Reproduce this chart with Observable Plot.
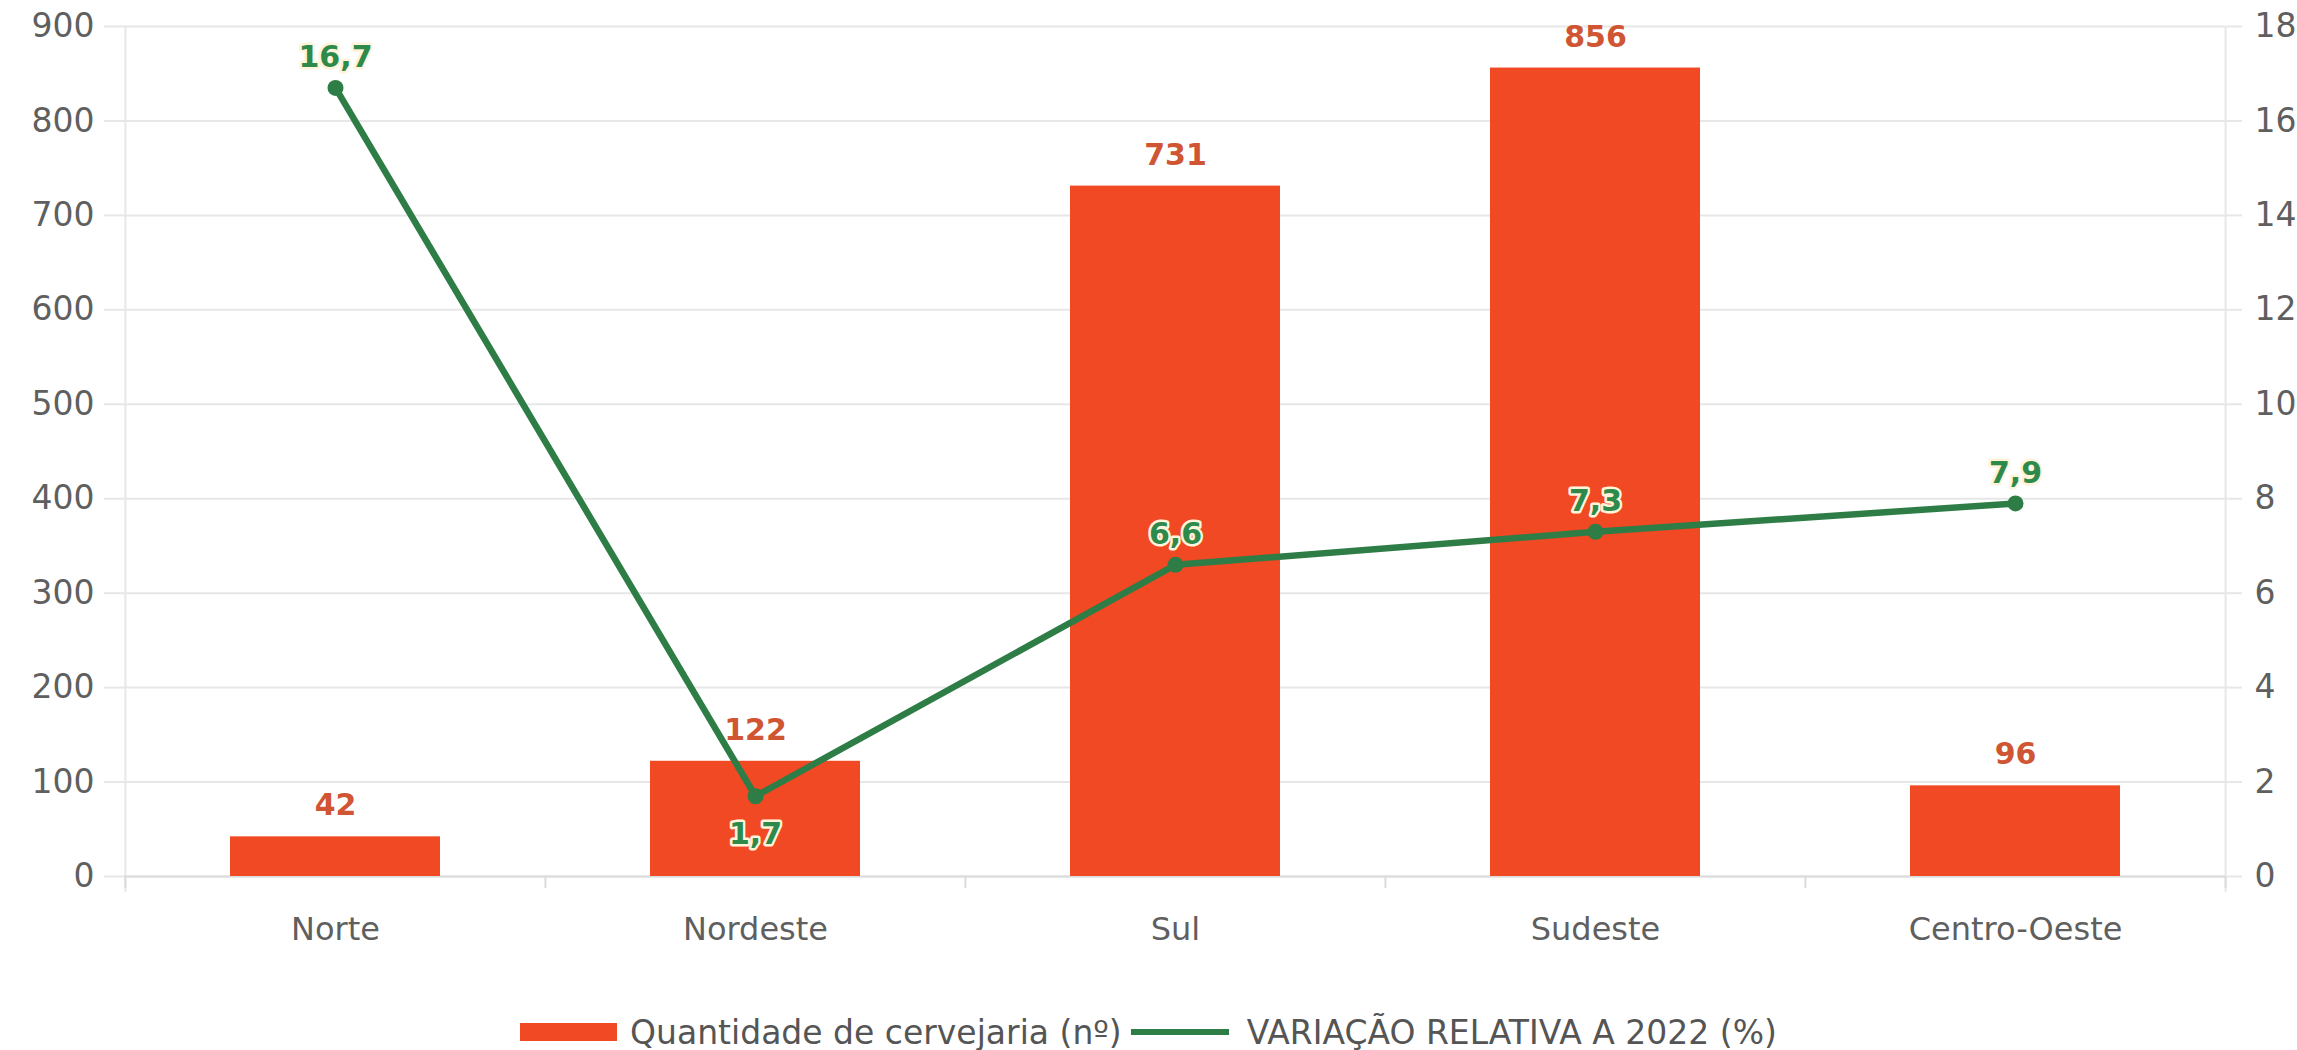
<!DOCTYPE html>
<html>
<head>
<meta charset="utf-8">
<script src="https://cdn.jsdelivr.net/npm/d3@7"></script>
<script src="https://cdn.jsdelivr.net/npm/@observablehq/plot@0.6"></script>
<style>
  html, body { margin: 0; padding: 0; background: #ffffff; }
  body { width: 2297px; height: 1050px; overflow: hidden; font-family: "DejaVu Sans", sans-serif; }
  #legend { height: 70px; display: flex; justify-content: center; align-items: center; padding-top: 34px; box-sizing: border-box; color: #555; font-size: 33px; }
  .item { display: flex; align-items: center; }
  .item + .item { margin-left: 9px; }
  .sw-bar { width: 97px; height: 18px; background: #f04923; margin-right: 13px; }
  .sw-line { width: 98px; height: 6px; background: #2e7d46; margin-right: 18px; }
</style>
</head>
<body>
<div id="chart"></div>
<div id="legend"></div>
<script>
// ---- data ----
const regions = ["Norte", "Nordeste", "Sul", "Sudeste", "Centro-Oeste"];
const breweries = [42, 122, 731, 856, 96];
const variation = [16.7, 1.7, 6.6, 7.3, 7.9];
const leftTicks = [0, 100, 200, 300, 400, 500, 600, 700, 800, 900];
const rightTicks = [0, 2, 4, 6, 8, 10, 12, 14, 16, 18];
const seriesNames = ["Quantidade de cervejaria (nº)", "VARIAÇÃO RELATIVA A 2022 (%)"];

// ---- layout ----
const W = 2297, H = 980;
const ML = 124, MR = 72, MT = 26, MB = 104;
const BAR = "#f04923", LINE = "#2e7d46", LABEL_BAR = "#cf5533", LABEL_LINE = "#2e8a4b";
const GRID = "#e7e7e7", TEXT = "#5f5f5f";

const leftMax = leftTicks[leftTicks.length - 1];
const rightMax = rightTicks[rightTicks.length - 1];
const ratio = leftMax / rightMax; // maps right axis onto the left scale

const data = regions.map((r, i) => ({
  region: r,
  count: breweries[i],
  pct: variation[i],
  pctY: variation[i] * ratio
}));

const step = (W - ML - MR) / regions.length;
const fmt = v => v.toFixed(1).replace(".", ",");

const chart = Plot.plot({
  width: W,
  height: H,
  marginLeft: ML,
  marginRight: MR,
  marginTop: MT,
  marginBottom: MB,
  style: { fontFamily: "'DejaVu Sans', sans-serif", background: "#ffffff", color: TEXT, overflow: "visible" },
  x: { domain: regions, paddingInner: 0.5, paddingOuter: 0.25, label: null },
  y: { domain: [0, leftMax], label: null },
  marks: [
    Plot.gridY(leftTicks, { stroke: GRID, strokeOpacity: 1, strokeWidth: 2 }),
    // left frame line and right frame line
    Plot.ruleX([regions[0]], { x: d => d, dx: -step / 2, stroke: GRID, strokeWidth: 2, insetBottom: -16 }),
    Plot.ruleX([regions[regions.length - 1]], { x: d => d, dx: step / 2, stroke: GRID, strokeWidth: 2, insetBottom: -16 }),
    // left axis
    Plot.axisY(leftTicks, { anchor: "left", tickSize: 20, tickPadding: 10, stroke: GRID, strokeWidth: 2, fill: TEXT, fontSize: 33, label: null }),
    // right axis (same pixel range, relabelled)
    Plot.axisY(leftTicks, { anchor: "right", tickSize: 16, tickPadding: 13, stroke: GRID, strokeWidth: 2, fill: TEXT, fontSize: 33, label: null, tickFormat: d => String(d / ratio) }),
    // baseline
    Plot.ruleY([0], { stroke: "#dcdcdc", strokeWidth: 2 }),
    // x band boundary ticks
    Plot.axisX({ tickSize: 12, stroke: "#dcdcdc", strokeWidth: 2, dx: -step / 2, tickFormat: () => "", label: null }),
    Plot.axisX([regions[regions.length - 1]], { tickSize: 12, stroke: "#dcdcdc", strokeWidth: 2, dx: step / 2, tickFormat: () => "", label: null }),
    // x labels
    Plot.axisX({ tickSize: 0, tickPadding: 41, fill: TEXT, fontSize: 32, label: null }),
    // bars
    Plot.barY(data, { x: "region", y: "count", fill: BAR }),
    Plot.text(data, { x: "region", y: "count", text: d => String(d.count), dy: -31, fill: LABEL_BAR, fontSize: 30, fontWeight: "bold" }),
    // line
    Plot.line(data, { x: "region", y: "pctY", stroke: LINE, strokeWidth: 6.5, curve: "linear" }),
    Plot.dot(data, { x: "region", y: "pctY", r: 8, fill: LINE }),
    Plot.text(data.filter(d => d.region !== "Nordeste"), { x: "region", y: "pctY", text: d => fmt(d.pct), dy: -30, fill: LABEL_LINE, stroke: "#fff4da", strokeWidth: 5, fontSize: 30, fontWeight: "bold" }),
    Plot.text(data.filter(d => d.region === "Nordeste"), { x: "region", y: "pctY", text: d => fmt(d.pct), dy: 38, fill: LABEL_LINE, stroke: "#fff4da", strokeWidth: 5, fontSize: 30, fontWeight: "bold" })
  ]
});
document.getElementById("chart").appendChild(chart);

// ---- legend ----
const legend = document.getElementById("legend");
const kinds = ["sw-bar", "sw-line"];
seriesNames.forEach((name, i) => {
  const item = document.createElement("div");
  item.className = "item";
  const sw = document.createElement("span");
  sw.className = kinds[i];
  const label = document.createElement("span");
  label.textContent = name;
  item.appendChild(sw);
  item.appendChild(label);
  legend.appendChild(item);
});
</script>
</body>
</html>
